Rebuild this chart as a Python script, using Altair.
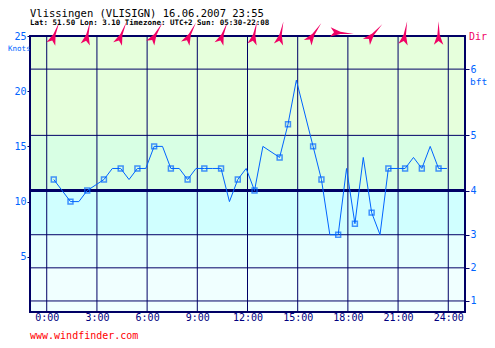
import altair as alt
import pandas as pd

TITLE = "Vlissingen (VLISIGN) 16.06.2007 23:55"
SUBTITLE = "Lat: 51.50 Lon: 3.10 Timezone: UTC+2 Sun: 05:30-22:08"
FOOTER = "www.windfinder.com"
LEFT_UNIT = "Knots"
RIGHT_UNIT = "bft"
DIR_LABEL = "Dir"

# wind speed observations (hour of day, knots, has marker)
hours = [0.42, 1.42, 1.92, 2.42, 3.42, 3.92, 4.42, 4.92, 5.42, 5.92,
         6.42, 6.92, 7.42, 7.92, 8.42, 8.92, 9.42, 9.92, 10.42, 10.92,
         11.42, 11.92, 12.42, 12.92, 13.92, 14.42, 14.92, 15.92, 16.42, 16.92,
         17.42, 17.92, 18.42, 18.92, 19.42, 19.92, 20.42, 21.42, 21.92, 22.42,
         22.92, 23.42, 23.92]
knots = [12, 10, 10, 11, 12, 13, 13, 12, 13, 13,
         15, 15, 13, 13, 12, 13, 13, 13, 13, 10,
         12, 13, 11, 15, 14, 17, 21, 15, 12, 7,
         7, 13, 8, 14, 9, 7, 13, 13, 14, 13,
         15, 13, 13]
marked = [1, 1, 0, 1, 1, 0, 1, 0, 1, 0,
          1, 0, 1, 0, 1, 0, 1, 0, 1, 0,
          1, 0, 1, 0, 1, 1, 0, 1, 1, 0,
          1, 0, 1, 0, 1, 0, 1, 1, 0, 1,
          0, 1, 0]

# wind direction arrows (hour, direction wind comes from in degrees)
arrow_hours = [0.5, 2.45, 4.5, 6.55, 8.6, 10.55, 12.42, 14.0, 16.0, 17.65, 19.58, 21.42, 23.42]
arrow_dir_from = [201, 192, 202, 211, 207, 201, 192, 192, 215, 275, 222, 190, 180]

grid_hours = [0, 3, 6, 9, 12, 15, 18, 21, 24]
knot_ticks = [5, 10, 15, 20, 25]
bft_knots = [1, 4, 7, 11, 16, 22]
bft_labels = ["1", "2", "3", "4", "5", "6"]

band_lo = [0, 4, 7, 11, 16]
band_hi = [4, 7, 11, 16, 25]
band_colors = ["#F0FFFF", "#E6FFFF", "#D0FFFF", "#D8FFE4", "#E6FFDC"]

W, H = 435, 276
FONT = "DejaVu Sans Mono"
NAVY = "#000066"
BLUE = "#0064FF"
PINK = "#F00064"

obs = pd.DataFrame({"h": hours, "kn": knots, "m": marked})
arrows = pd.DataFrame({"h": arrow_hours, "dir": arrow_dir_from})
bands = pd.DataFrame({"lo": band_lo, "hi": band_hi, "c": band_colors})
vgrid = pd.DataFrame({"h": grid_hours})
hgrid = pd.DataFrame({"k": bft_knots})

xs = alt.Scale(domain=[-1, 25], nice=False, zero=False)
ys = alt.Scale(domain=[0, 25], nice=False, zero=True)

x_axis = alt.Axis(values=grid_hours, labelExpr="datum.value + ':00'", grid=False,
                  ticks=False, domain=False, labelFont=FONT, labelFontSize=10,
                  labelColor="#000080", labelPadding=0, title=None, labelFlush=False)

left_axis = alt.Axis(values=knot_ticks, grid=False, domain=False, tickSize=3,
                     tickColor=NAVY, labelFont=FONT, labelFontSize=10, labelColor=BLUE,
                     labelPadding=1, title=None, orient="left", labelFlush=False)

bft_expr = "".join(f"datum.value == {k} ? '{l}' : " for k, l in zip(bft_knots, bft_labels)) + "''"
right_axis = alt.Axis(values=bft_knots, grid=False, domain=False, tickSize=4,
                      tickColor=NAVY, labelFont=FONT, labelFontSize=10, labelColor=BLUE,
                      labelPadding=1, title=None, orient="right", labelExpr=bft_expr,
                      labelFlush=False)

band_layer = alt.Chart(bands).mark_rect().encode(
    x=alt.value(0), x2=alt.value(W),
    y=alt.Y("lo:Q", scale=ys, axis=left_axis), y2="hi:Q",
    fill=alt.Fill("c:N", scale=None),
)

vrule_layer = alt.Chart(vgrid).mark_rule(color=NAVY, strokeWidth=1).encode(
    x=alt.X("h:Q", scale=xs, axis=x_axis),
)

hrule_layer = alt.Chart(hgrid).transform_calculate(
    w="datum.k == 11 ? 3 : 1"
).mark_rule(color=NAVY).encode(
    y=alt.Y("k:Q", scale=ys, axis=right_axis),
    strokeWidth=alt.StrokeWidth("w:Q", scale=None),
)

frame_layer = alt.Chart(bands).mark_rect(fill=None, stroke=NAVY, strokeWidth=1.5).encode(
    x=alt.value(0), x2=alt.value(W), y=alt.value(0), y2=alt.value(H),
)

line_layer = alt.Chart(obs).mark_line(color=BLUE, strokeWidth=1).encode(
    x=alt.X("h:Q", scale=xs, axis=x_axis),
    y=alt.Y("kn:Q", scale=ys, axis=None),
)

point_layer = alt.Chart(obs).transform_filter("datum.m == 1").mark_point(
    shape="square", filled=False, color=BLUE, size=24, strokeWidth=1.5
).encode(
    x=alt.X("h:Q", scale=xs, axis=x_axis),
    y=alt.Y("kn:Q", scale=ys, axis=None),
)

ARROW = "M0,-1L0.1,0.15L0.4,1L0,0.68L-0.4,1L-0.1,0.15Z"
arrow_layer = alt.Chart(arrows).transform_calculate(
    ang="(datum.dir + 180) % 360"
).mark_point(shape=ARROW, filled=True, color=PINK, opacity=1, size=560, strokeWidth=0).encode(
    x=alt.X("h:Q", scale=xs, axis=x_axis),
    y=alt.value(-3),
    angle=alt.Angle("ang:Q", scale=None),
)

def label(txt, x, y, color, size, align="left", baseline="middle", weight="normal"):
    return alt.Chart(pd.DataFrame({"t": [txt]})).mark_text(
        font=FONT, fontSize=size, color=color, align=align, baseline=baseline,
        fontWeight=weight
    ).encode(x=alt.value(x), y=alt.value(y), text="t:N")

texts = [
    label(TITLE, 0, -19, "#000000", 10.5, baseline="alphabetic"),
    label(SUBTITLE, 0, -11.5, "#000000", 7.5, baseline="alphabetic", weight="bold"),
    label(LEFT_UNIT, -22, 13, BLUE, 7.5),
    label(RIGHT_UNIT, 440, 46, BLUE, 9.5),
    label(DIR_LABEL, 439, 1, PINK, 10),
    label(FOOTER, 0, 303, "#FF0000", 10, baseline="alphabetic"),
]

chart = alt.layer(
    band_layer, vrule_layer, hrule_layer, frame_layer, line_layer, point_layer,
    arrow_layer, *texts
).resolve_scale(y="independent").properties(
    width=W, height=H,
    autosize=alt.AutoSizeParams(type="none"),
    padding={"left": 22, "top": 28, "right": 22, "bottom": 28},
    background="white",
).configure_view(stroke=None)

chart.save("out.html", embed_options={"renderer": "svg", "actions": False})
